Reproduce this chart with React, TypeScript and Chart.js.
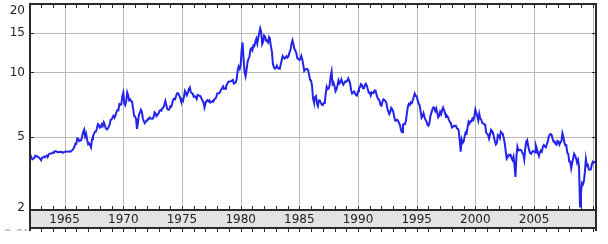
import React, { useEffect, useRef } from 'react';
import { Chart, LineController, LineElement, PointElement, LinearScale } from 'chart.js';

// Monthly values (percent), starting January 1962
const rates1960s: number[] = [
  4.08, 4.04, 3.93, 3.84, 3.87, 3.91, 4.01, 3.98, 3.98, 3.93, 3.92, 3.86,
  3.80, 3.92, 3.93, 3.97, 3.93, 3.99, 4.02, 4.00, 4.08, 4.11, 4.12, 4.13,
  4.17, 4.15, 4.22, 4.23, 4.20, 4.17, 4.19, 4.19, 4.20, 4.19, 4.15, 4.18,
  4.19, 4.21, 4.21, 4.20, 4.21, 4.21, 4.20, 4.25, 4.29, 4.35, 4.45, 4.62,
  4.61, 4.90, 4.87, 4.75, 4.78, 4.81, 5.02, 5.30, 5.42, 5.01, 5.16, 4.84,
  4.58, 4.63, 4.54, 4.42, 4.85, 5.02, 5.16, 5.28, 5.30, 5.48, 5.75, 5.70,
  5.53, 5.56, 5.74, 5.64, 5.87, 5.72, 5.50, 5.42, 5.46, 5.58, 5.70, 6.03,
  6.04, 6.19, 6.30, 6.17, 6.32, 6.57, 6.72, 6.69, 7.16, 7.10, 7.14, 7.80,
];
const rates1970s: number[] = [
  8.10, 7.24, 7.07, 7.39, 8.10, 7.84, 7.46, 7.53, 7.39, 7.33, 6.84, 6.30,
  6.24, 6.11, 5.45, 5.83, 6.39, 6.52, 6.73, 6.58, 6.14, 5.93, 5.81, 5.93,
  5.95, 6.08, 6.07, 6.19, 6.13, 6.11, 6.11, 6.21, 6.55, 6.48, 6.28, 6.36,
  6.46, 6.64, 6.71, 6.67, 6.85, 6.90, 7.13, 7.40, 7.09, 6.79, 6.73, 6.74,
  6.99, 6.96, 7.21, 7.51, 7.58, 7.54, 7.81, 8.04, 8.04, 7.90, 7.68, 7.43,
  7.50, 7.39, 7.73, 8.23, 8.06, 7.86, 8.06, 8.40, 8.55, 8.14, 8.05, 8.00,
  7.74, 7.79, 7.73, 7.56, 7.90, 7.86, 7.83, 7.77, 7.59, 7.41, 7.29, 6.90,
  7.21, 7.39, 7.46, 7.37, 7.46, 7.28, 7.33, 7.40, 7.34, 7.52, 7.58, 7.69,
  8.01, 8.03, 8.04, 8.15, 8.35, 8.46, 8.64, 8.41, 8.42, 8.64, 8.81, 9.01,
  9.10, 9.10, 9.12, 9.18, 9.25, 8.91, 8.95, 9.03, 9.33, 10.30, 10.65, 10.39,
];
const rates1980s: number[] = [
  10.80, 12.60, 13.60, 11.47, 10.00, 9.60, 10.25, 11.10, 11.51, 11.75, 12.68, 12.84,
  12.57, 13.19, 13.12, 13.68, 14.10, 13.47, 14.28, 14.94, 15.70, 15.15, 13.39, 13.72,
  14.59, 14.43, 13.86, 13.87, 13.62, 14.30, 13.95, 13.06, 12.34, 10.91, 10.55, 10.40,
  10.46, 10.72, 10.51, 10.40, 10.38, 10.85, 11.38, 11.85, 11.65, 11.54, 11.69, 11.83,
  11.67, 11.84, 12.32, 12.63, 13.41, 13.90, 13.36, 12.72, 12.52, 12.16, 11.57, 11.50,
  11.38, 11.51, 11.86, 11.43, 10.85, 10.16, 10.31, 10.33, 10.37, 10.24, 9.78, 9.26,
  9.19, 8.70, 7.60, 7.30, 7.71, 7.80, 7.20, 7.00, 7.45, 7.43, 7.25, 7.11,
  7.08, 7.25, 7.25, 8.02, 8.61, 8.40, 8.45, 8.76, 9.60, 10.10, 8.86, 8.99,
  8.67, 8.21, 8.37, 8.72, 9.20, 8.92, 9.06, 9.30, 8.98, 8.80, 8.96, 9.11,
  9.09, 9.17, 9.40, 9.18, 8.86, 8.28, 8.02, 8.11, 8.19, 8.01, 7.87, 7.84,
];
const rates1990s: number[] = [
  8.21, 8.47, 8.59, 8.85, 8.76, 8.48, 8.47, 8.75, 8.89, 8.72, 8.39, 8.08,
  8.09, 7.85, 8.11, 8.04, 8.07, 8.28, 8.27, 7.90, 7.65, 7.53, 7.42, 7.09,
  7.03, 7.34, 7.54, 7.48, 7.39, 7.26, 6.84, 6.59, 6.42, 6.59, 6.87, 6.77,
  6.60, 6.26, 5.98, 5.97, 6.04, 5.96, 5.81, 5.68, 5.36, 5.25, 5.72, 5.77,
  5.75, 5.97, 6.48, 6.97, 7.18, 7.10, 7.30, 7.24, 7.46, 7.74, 8.00, 7.81,
  7.78, 7.47, 7.20, 7.06, 6.63, 6.17, 6.28, 6.49, 6.20, 6.04, 5.93, 5.71,
  5.65, 5.81, 6.27, 6.51, 6.74, 6.91, 6.87, 6.64, 6.83, 6.53, 6.20, 6.30,
  6.58, 6.42, 6.69, 6.89, 6.71, 6.49, 6.22, 6.30, 6.21, 6.03, 5.88, 5.81,
  5.54, 5.57, 5.65, 5.64, 5.65, 5.50, 5.46, 5.34, 4.81, 4.20, 4.83, 4.65,
  4.72, 5.00, 5.23, 5.18, 5.54, 5.90, 5.79, 5.94, 5.92, 6.11, 6.03, 6.28,
];
const rates2000s: number[] = [
  6.75, 6.52, 6.26, 5.99, 6.44, 6.10, 6.05, 5.83, 5.80, 5.74, 5.72, 5.24,
  5.16, 5.10, 4.89, 5.14, 5.39, 5.28, 5.24, 4.97, 4.73, 4.57, 4.65, 5.09,
  5.04, 4.91, 5.28, 5.21, 5.16, 4.93, 4.65, 4.26, 3.87, 3.94, 4.05, 4.03,
  4.05, 3.90, 3.81, 3.96, 3.57, 3.10, 3.98, 4.45, 4.27, 4.29, 4.30, 4.27,
  4.15, 4.08, 3.83, 4.35, 4.72, 4.80, 4.50, 4.28, 4.13, 4.10, 4.19, 4.23,
  4.22, 4.17, 4.50, 4.34, 4.14, 4.00, 4.18, 4.26, 4.20, 4.46, 4.54, 4.47,
  4.42, 4.57, 4.72, 4.99, 5.11, 5.15, 5.09, 4.88, 4.72, 4.73, 4.60, 4.56,
  4.76, 4.72, 4.56, 4.69, 4.75, 5.20, 5.00, 4.67, 4.52, 4.53, 4.15, 4.10,
  3.74, 3.74, 3.45, 3.68, 3.88, 4.10, 4.01, 3.89, 3.69, 3.81, 3.53, 2.10,
  2.52, 2.87, 2.82, 2.93, 3.29, 3.85, 3.56, 3.59, 3.40, 3.39, 3.40, 3.59,
];
const rates2010s: number[] = [3.73, 3.69, 3.73, 3.75];

const startYear = 1962;
const yearLabels: number[] = [1965, 1970, 1975, 1980, 1985, 1990, 1995, 2000, 2005];
const gridYears: number[] = [1965, 1970, 1975, 1980, 1985, 1990, 1995, 2000, 2005, 2010];
const yTickValues: number[] = [2, 5, 10, 15, 20];
const yGridValues: number[] = [5, 10, 15];

const allRates: number[] = [
  ...rates1960s, ...rates1970s, ...rates1980s, ...rates1990s, ...rates2000s, ...rates2010s,
];
const points = allRates.map((v, i) => ({ x: startYear + i / 12, y: v }));

class LogPlusOneScale extends LinearScale {
  static id = 'logp1';
  _lpStart = 0;
  _lpRange = 1;
  configure() {
    super.configure();
    this._lpStart = Math.log10((this as any).min + 1);
    this._lpRange = Math.log10((this as any).max + 1) - this._lpStart;
  }
  getPixelForValue(value: number) {
    return (this as any).getPixelForDecimal((Math.log10(value + 1) - this._lpStart) / this._lpRange);
  }
  getValueForPixel(pixel: number) {
    return Math.pow(10, this._lpStart + (this as any).getDecimalForPixel(pixel) * this._lpRange) - 1;
  }
}

Chart.register(LineController, LineElement, PointElement, LinearScale, LogPlusOneScale as any);

const FONT = '12px "DejaVu Sans", Verdana, sans-serif';
const DARK = '#2b2b2b';

const framePlugin = {
  id: 'framePlugin',
  beforeDatasetsDraw(chart: any) {
    const { ctx, chartArea: a, scales } = chart;
    const x = scales.x, y = scales.y;
    ctx.save();
    ctx.strokeStyle = '#b9b9b9';
    ctx.lineWidth = 1;
    ctx.beginPath();
    for (const yr of gridYears) {
      const px = Math.round(x.getPixelForValue(yr)) + 0.5;
      ctx.moveTo(px, a.top);
      ctx.lineTo(px, a.bottom);
    }
    for (const v of yGridValues) {
      const py = Math.round(y.getPixelForValue(v)) + 0.5;
      ctx.moveTo(a.left, py);
      ctx.lineTo(a.right, py);
    }
    ctx.stroke();
    ctx.restore();
  },
  afterDraw(chart: any) {
    const { ctx, chartArea: a, scales } = chart;
    const x = scales.x, y = scales.y;
    const bandTop = a.bottom;
    const bandBottom = a.bottom + 18;
    ctx.save();
    // label band
    ctx.fillStyle = '#e3e3e3';
    ctx.fillRect(a.left, bandTop, a.right - a.left, bandBottom - bandTop);
    // frame
    ctx.fillStyle = DARK;
    ctx.fillRect(a.left - 1, a.top - 1, a.right - a.left + 2, 2);
    ctx.fillRect(a.left - 1, a.top - 1, 2, bandBottom + 4 - a.top);
    ctx.fillRect(a.right - 1, a.top - 1, 2, bandBottom + 4 - a.top);
    ctx.fillRect(a.left - 1, bandTop - 1, a.right - a.left + 2, 2);
    ctx.fillRect(a.left - 1, bandBottom - 1, a.right - a.left + 2, 2);
    // year ticks
    for (let yr = 1963; yr <= 2010; yr++) {
      const px = Math.round(x.getPixelForValue(yr));
      ctx.fillRect(px, a.top, 1, 4);
      ctx.fillRect(px, bandTop - 4, 1, 4);
      ctx.fillRect(px, bandBottom, 1, 4);
    }
    // value ticks
    for (const v of yGridValues) {
      const py = Math.round(y.getPixelForValue(v));
      ctx.fillRect(a.left, py, 4, 1);
      ctx.fillRect(a.right - 4, py, 4, 1);
    }
    // labels
    ctx.font = FONT;
    ctx.fillStyle = '#1e1e1e';
    ctx.textBaseline = 'middle';
    ctx.textAlign = 'center';
    for (const yr of yearLabels) {
      ctx.fillText(String(yr), x.getPixelForValue(yr), (bandTop + bandBottom) / 2 + 1);
    }
    ctx.textAlign = 'right';
    for (const v of yTickValues) {
      let py = y.getPixelForValue(v);
      py = Math.min(Math.max(py, a.top + 7), a.bottom - 2);
      ctx.fillText(String(v), 25, py);
    }
    // partially visible text at the very bottom left
    ctx.fillStyle = '#a8a8a8';
    ctx.textBaseline = 'top';
    ctx.textAlign = 'left';
    ctx.beginPath();
    ctx.rect(0, bandBottom, a.left - 3, 3);
    ctx.clip();
    ctx.fillText('0.00', 4, bandBottom + 1);
    ctx.restore();
  },
};

export default function App() {
  const ref = useRef<HTMLCanvasElement | null>(null);
  useEffect(() => {
    const canvas = ref.current;
    if (!canvas) return;
    const chart = new Chart(canvas, {
      type: 'line',
      data: {
        datasets: [
          {
            data: points,
            borderColor: '#2424e8',
            borderWidth: 2,
            pointRadius: 0,
            tension: 0,
            fill: false,
          },
        ],
      },
      options: {
        responsive: false,
        animation: false,
        devicePixelRatio: 1,
        parsing: true,
        layout: { padding: { left: 30, right: 12, top: 4, bottom: 34 } },
        plugins: { legend: { display: false }, tooltip: { enabled: false } },
        events: [],
        scales: {
          x: { type: 'linear', display: false, min: 1962.05, max: 2010.28, bounds: 'data' },
          y: { type: 'logp1', display: false, min: 2, max: 20, bounds: 'data' } as any,
        },
      },
      plugins: [framePlugin],
    } as any);
    return () => chart.destroy();
  }, []);
  return (
    <div style={{ position: 'absolute', left: 0, top: 0, width: 608, height: 244, background: '#fff' }}>
      <canvas ref={ref} width={608} height={244} style={{ display: 'block', width: 608, height: 244 }} />
    </div>
  );
}
